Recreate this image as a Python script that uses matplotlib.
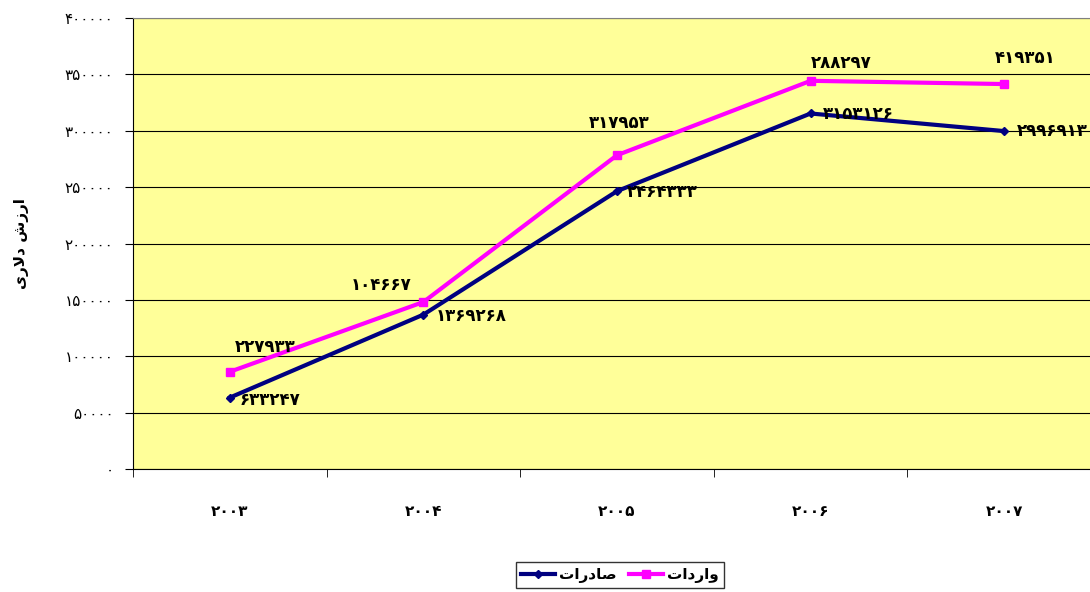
import matplotlib
matplotlib.use('agg')
import matplotlib.pyplot as plt
import numpy as np

years = ['2003', '2004', '2005', '2006', '2007']
exports = [63324.7, 136926.8, 246433.3, 315312.6, 299691.3]
imports = [86227.933, 148104.667, 278317.953, 344288.297, 341419.351]
y_ticks = [0, 50000, 100000, 150000, 200000, 250000, 300000, 350000, 400000]

# arabic text pre-shaped (presentation forms, visual order)
name_exports = '\ufe95\ufe8d\ufead\ufea9\ufe8e\ufebb'   # صادرات
name_imports = '\ufe95\ufe8d\ufea9\ufead\ufe8d\ufeed'   # واردات
y_title = '\ufeef\ufead\ufefb\ufea9 \ufeb5\ufeaf\ufead\ufe8d'   # ارزش دلاری

# label offsets in pixels
exp_off = [(10, -2), (12, -1), (10, -1), (12, -1), (13, 0)]
imp_off = [(35, 25), (-42, 17), (2, 32), (31, 18), (21, 26)]

FA = str.maketrans('0123456789', '\u06f0\u06f1\u06f2\u06f3\u06f4\u06f5\u06f6\u06f7\u06f8\u06f9')

def fa(s):
  return str(s).translate(FA)

def exp_label(v):
  return ('%.1f' % v).replace('.', '')

def imp_label(v):
  return ('%.3f' % v).replace('.', '')[-6:]

plt.rcParams['font.family'] = ['DejaVu Sans']

fig = plt.figure(figsize=(10.9, 5.92), dpi=100)
ax = fig.add_axes([133/1090, 1 - 469/592, 968/1090, 451/592])
ax.set_facecolor('#ffff99')

x = np.arange(len(years))
l1, = ax.plot(x, exports, color='#000080', lw=3, marker='D', ms=4, zorder=3, label=name_exports)
l2, = ax.plot(x, imports, color='#ff00ff', lw=3, marker='s', ms=6, zorder=3, label=name_imports)

for i in range(len(years)):
  ax.annotate(fa(exp_label(exports[i])), (x[i], exports[i]), xytext=exp_off[i], textcoords='offset pixels',
              ha='left', va='center', fontsize=12, fontweight='bold', zorder=4)
  ax.annotate(fa(imp_label(imports[i])), (x[i], imports[i]), xytext=imp_off[i], textcoords='offset pixels',
              ha='center', va='center', fontsize=12, fontweight='bold', zorder=4)

ax.set_xlim(-0.5, 4.5)
ax.set_ylim(0, 400000)
ax.set_yticks(y_ticks)
ax.set_yticklabels([fa(v) for v in y_ticks], fontsize=11)
ax.yaxis.grid(True, color='black', lw=0.8)
ax.set_axisbelow(True)

ax.set_xticks(x)
ax.set_xticklabels([fa(y) for y in years], fontsize=11, fontweight='bold')
ax.set_xticks(np.arange(-0.5, 5, 1), minor=True)
ax.tick_params(axis='x', which='major', length=0, pad=25)
ax.tick_params(axis='x', which='minor', length=6, color='black')
ax.tick_params(axis='y', length=6, pad=8, color='black')

ax.spines['right'].set_visible(False)
ax.spines['top'].set_color('#808080')
ax.spines['left'].set_color('black')
ax.spines['bottom'].set_color('black')

ax.set_ylabel(y_title, fontsize=11, fontweight='bold', labelpad=26)

leg = fig.legend(handles=[l1, l2], loc='center', bbox_to_anchor=(620/1090, 1 - 575/592), ncol=2,
                 frameon=True, fancybox=False, edgecolor='black', handlelength=2.2, handletextpad=0.3,
                 columnspacing=0.8, borderpad=0.3, prop={'size': 11, 'weight': 'bold'})
leg.get_frame().set_linewidth(1)

plt.savefig('out.png', dpi=100)
plt.close()
